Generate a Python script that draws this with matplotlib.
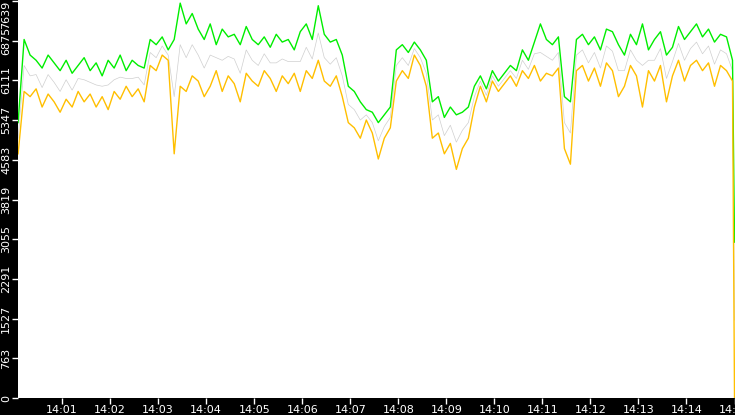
import numpy as np
import matplotlib
matplotlib.use("Agg")
import matplotlib.pyplot as plt

green = [5300,6900,6600,6500,6350,6600,6450,6300,6500,6250,6400,6550,6300,6450,6200,6500,6350,6600,6300,6500,
         6400,6350,6900,6800,6950,6700,6900,7600,7200,7400,7100,6900,7200,6800,7100,6950,7000,6800,7150,6900,
         6800,6950,6750,7000,6850,6900,6700,7050,7200,6900,7550,7000,6850,6900,6600,6000,5900,5700,5550,5500,
         5300,5450,5600,6700,6800,6650,6850,6700,6500,5700,5800,5400,5600,5450,5500,5600,6000,6200,5950,6300,
         6100,6250,6400,6300,6700,6500,6850,7200,6900,6800,6950,5800,5700,6900,7000,6800,6950,6700,7100,7050,
         6800,6600,7000,6800,7200,6700,6900,7050,6600,6750,7150,6900,7050,7200,6950,7100,6850,7000,6950,6500,
         3000]
yellow = [4700,5900,5800,5950,5600,5850,5700,5500,5750,5600,5900,5700,5850,5600,5800,5550,5900,5750,6000,5800,
          5950,5700,6400,6300,6600,6500,4700,6000,5900,6200,6100,5800,6000,6300,5900,6200,6050,5700,6250,6100,
          6000,6300,6150,5900,6200,6050,6250,5900,6300,6150,6500,6100,6000,6200,5800,5300,5200,5000,5350,5100,
          4600,5000,5200,6100,6300,6150,6600,6400,6000,5000,5100,4700,4900,4400,4800,5000,5600,6000,5700,6100,
          5900,6050,6200,6000,6300,6150,6400,6100,6250,6200,6350,4800,4500,6300,6400,6100,6350,6000,6450,6300,
          5800,6000,6400,6200,5600,6300,6100,6400,5700,6200,6500,6100,6400,6500,6300,6450,6000,6400,6300,6100,
          0]
green_start_min = 0.0833
step_min = 0.125
ticks = [f"14:{m:02d}" for m in range(1, 16)]
yticks = [0, 763, 1527, 2291, 3055, 3819, 4583, 5347, 6111, 6875, 7639]

t = green_start_min + step_min * np.arange(len(green) - 1)
t = np.append(t, 15.0)

fig = plt.figure(figsize=(7.35, 4.15), dpi=100, facecolor="black")
ax = fig.add_axes([18/735, 17/415, 717/735, 398/415])
ax.set_facecolor("white")
ax.plot(t, (np.array(green) + np.array(yellow)) / 2, color="#bbbbbb", lw=0.5, alpha=0.7)
ax.plot(t, green, color="#00ee00", lw=1)
ax.plot(t, yellow, color="#ffbf00", lw=1)
ax.set_xlim(green_start_min - 0.002, 15.0 + 0.01)
ax.set_ylim(0, 7660)
ax.set_xticks(range(1, 16))
ax.set_xticklabels(ticks)
ax.set_yticks(yticks)
labels = ax.set_yticklabels([str(v) for v in yticks], rotation=90, va="center")
labels[-1].set_va("top")
ax.tick_params(colors="white", labelcolor="white", labelsize=8, length=4, width=1, pad=1)
for s in ax.spines.values():
    s.set_visible(False)
fig.savefig("out.png", dpi=100, facecolor="black")
